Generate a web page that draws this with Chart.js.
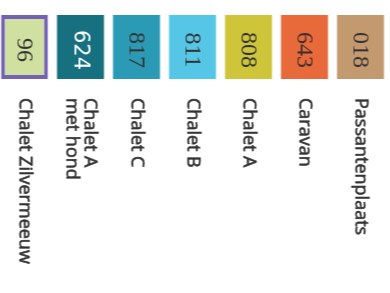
<!DOCTYPE html>
<html>
<head>
<meta charset="utf-8">
<script src="https://cdn.jsdelivr.net/npm/chart.js@4"></script>
<style>
  html, body { margin: 0; padding: 0; background: #fff; overflow: hidden; }
  body { width: 390px; height: 293px; position: relative; }
  /* the chart is drawn upright and then turned a quarter clockwise */
  #wrap {
    position: absolute; left: 0; top: 0;
    width: 293px; height: 392px;
    transform-origin: 0 0;
    transform: translateX(388.5px) rotate(90deg);
  }
</style>
</head>
<body>
<div id="wrap"><canvas id="chart" width="293" height="392"></canvas></div>
<script>
const categories = ['Passantenplaats', 'Caravan', 'Chalet A', 'Chalet B', 'Chalet C', ['Chalet A', 'met hond'], 'Chalet Zilvermeeuw'];
const codes = ['018', '643', '808', '811', '817', '624', '96'];
const swatch = [1, 1, 1, 1, 1, 1, 1];

const fillColors = ['#c39a6f', '#e8693a', '#cec53a', '#56c6e6', '#2b9ab4', '#17707f', '#cfe0a0'];
const borderColors = ['#c39a6f', '#e8693a', '#cec53a', '#56c6e6', '#2b9ab4', '#17707f', '#7462b4'];
const borderWidths = [0, 0, 0, 0, 0, 0, 4];
const codeColors = ['#3a3030', '#3a3030', '#333', '#333', '#333', '#ffffff', '#333'];
const codeFonts = ['serif', 'serif', 'serif', 'serif', 'serif', 'sans', 'serif'];

// codes inside the swatches and names next to them
const labelPlugin = {
  id: 'labels',
  afterDatasetsDraw(chart) {
    const ctx = chart.ctx;
    const meta = chart.getDatasetMeta(0);
    ctx.save();
    meta.data.forEach((bar, i) => {
      const p = bar.getProps(['x', 'y', 'base'], true);
      ctx.fillStyle = codeColors[i];
      ctx.font = codeFonts[i] === 'sans'
        ? '21px "DejaVu Sans", sans-serif'
        : '24px "Liberation Serif", serif';
      ctx.textAlign = 'center';
      ctx.textBaseline = 'middle';
      ctx.fillText(codes[i], (p.x + p.base) / 2 + 3, p.y + 1);

      ctx.fillStyle = '#333';
      ctx.strokeStyle = '#333';
      ctx.lineWidth = 0.6;
      ctx.font = '18px "Open Sans", sans-serif';
      ctx.textAlign = 'left';
      const lines = Array.isArray(categories[i]) ? categories[i] : [categories[i]];
      const lh = 18;
      lines.forEach((t, j) => {
        const y = p.y + (j - (lines.length - 1) / 2) * lh;
        ctx.fillText(t, 98, y);
        ctx.strokeText(t, 98, y);
      });
    });
    ctx.restore();
  }
};

new Chart(document.getElementById('chart'), {
  type: 'bar',
  data: {
    labels: categories,
    datasets: [{
      data: swatch,
      backgroundColor: fillColors,
      borderColor: borderColors,
      borderWidth: borderWidths,
      borderSkipped: false,
      barPercentage: 0.84,
      categoryPercentage: 1
    }]
  },
  options: {
    indexAxis: 'y',
    responsive: false,
    animation: false,
    layout: { padding: { left: 15, right: 0, top: 0, bottom: 0 } },
    plugins: { legend: { display: false }, tooltip: { enabled: false } },
    scales: {
      x: { display: false, min: 0, max: 278 / 64 },
      y: { display: false }
    }
  },
  plugins: [labelPlugin]
});
</script>
</body>
</html>
